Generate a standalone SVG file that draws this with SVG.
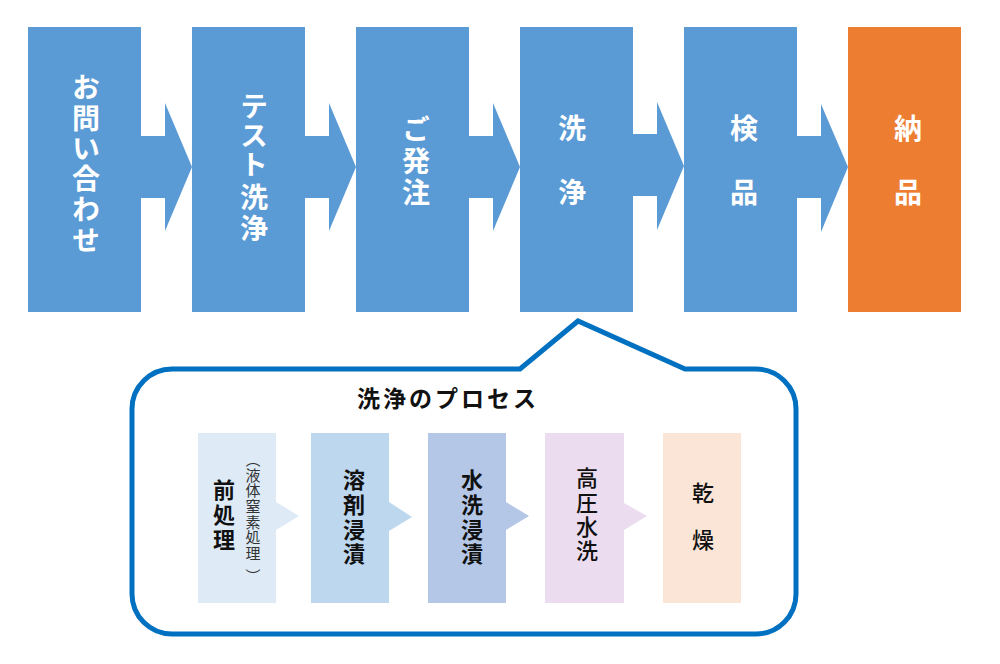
<svg xmlns="http://www.w3.org/2000/svg" width="1000" height="664" viewBox="0 0 1000 664">
<style>
.box{fill:#5B9BD5}
.org{fill:#ED7D31}
.arr{fill:#5B9BD5}
.vt{writing-mode:vertical-rl;font-family:"Noto Sans CJK JP","Noto Sans",sans-serif;text-anchor:middle}
.top{fill:#FFFFFF;font-size:28px;font-weight:bold}
.in{fill:#111111;font-size:22px;font-weight:500}
.b{font-weight:bold}
.small{fill:#333333;font-size:15px;font-weight:normal}
.title{font-family:"Noto Sans CJK JP","Noto Sans",sans-serif;font-size:23px;font-weight:bold;fill:#111111;letter-spacing:3px;text-anchor:middle}
</style>
<rect width="1000" height="664" fill="#FFFFFF"/>
<g id="connectors">
<polygon class="arr" points="141,136 165,136 165,103 192,167 165,231 165,198 141,198"/>
<polygon class="arr" points="305,136 329,136 329,103 356,167 329,231 329,198 305,198"/>
<polygon class="arr" points="469,136 493,136 493,103 520,167 493,231 493,198 469,198"/>
<polygon class="arr" points="633,134 657,134 657,102 684,166 657,230 657,196 633,196"/>
<polygon class="arr" points="797,136 821,136 821,104 848,167 821,232 821,198 797,198"/>
<polygon fill="#DEEBF7" points="276,502 299,516 276,530"/>
<polygon fill="#BDD7EE" points="389,502 412,517 389,531"/>
<polygon fill="#B4C7E7" points="506,502 529,516 506,530"/>
<polygon fill="#EBDCF0" points="624,503 647,516 624,530"/>
</g>
<g id="n1"><rect class="box" x="28" y="27" width="113" height="285"/>
<text class="vt top" x="86" y="87 118 148 178 209 240">お問い合わせ</text></g>
<g id="n2"><rect class="box" x="192" y="27" width="113" height="285"/>
<text class="vt top" x="254" y="106 135 164 197 228">テスト洗浄</text></g>
<g id="n3"><rect class="box" x="356" y="27" width="113" height="285"/>
<text class="vt top" x="416" y="129 161 192">ご発注</text></g>
<g id="n4"><rect class="box" x="520" y="27" width="113" height="285"/>
<text class="vt top" x="572" y="128 192">洗浄</text></g>
<g id="n5"><rect class="box" x="684" y="27" width="113" height="285"/>
<text class="vt top" x="744" y="128 192">検品</text></g>
<g id="n6"><rect class="org" x="848" y="27" width="113" height="285"/>
<text class="vt top" x="908" y="128 192">納品</text></g>
<g id="callout">
<path d="M172,369 L520,369 L578,321 L685,369 L756,369 A40,40 0 0 1 796,409 L796,594 A40,40 0 0 1 756,634 L172,634 A40,40 0 0 1 132,594 L132,409 A40,40 0 0 1 172,369 Z" fill="none" stroke="#0070C0" stroke-width="5" stroke-linejoin="miter"/>
<text class="title" x="448" y="407">洗浄のプロセス</text>
</g>
<g id="p1"><rect fill="#DEEBF7" x="198" y="433" width="78" height="170"/>
<text class="vt in b" x="224" y="490 515 540">前処理</text>
<text class="vt small" x="253" y="459 475 490 506 522 537 553 576">（液体窒素処理）</text></g>
<g id="p2"><rect fill="#BDD7EE" x="311" y="433" width="78" height="170"/>
<text class="vt in b" x="354" y="480 505 530 554">溶剤浸漬</text></g>
<g id="p3"><rect fill="#B4C7E7" x="428" y="433" width="78" height="170"/>
<text class="vt in b" x="472" y="480 505 530 554">水洗浸漬</text></g>
<g id="p4"><rect fill="#EBDCF0" x="545" y="433" width="79" height="170"/>
<text class="vt in" x="587" y="478 503 527 551">高圧水洗</text></g>
<g id="p5"><rect fill="#FBE5D6" x="663" y="433" width="78" height="170"/>
<text class="vt in" x="703" y="493 540">乾燥</text></g>
</svg>
